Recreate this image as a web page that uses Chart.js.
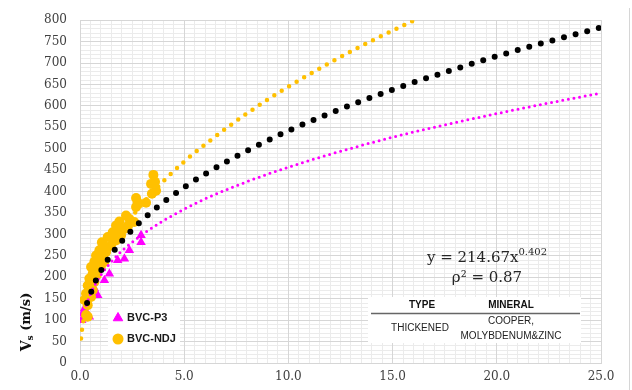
<!DOCTYPE html>
<html><head><meta charset="utf-8">
<script src="https://cdn.jsdelivr.net/npm/chart.js@4.4.1/dist/chart.umd.min.js"></script>
<style>html,body{margin:0;padding:0;background:#fff}#wrap{width:632px;height:390px;position:relative}</style>
</head><body><div id="wrap"><canvas id="c" width="632" height="390"></canvas></div>
<script>
// ---- data ----
const seriesNames = ['BVC-P3', 'BVC-NDJ'];
const p3X = [0.08,0.13,0.13,0.21,0.29,0.45,0.69,0.85,1.17,1.41,1.81,2.13,2.37,2.93,2.93];
const p3Y = [100,104,116,127,147,108,174,158,193,208,240,243,263,282,298];
const ndjX = [0.29,0.37,0.21,0.37,0.53,0.29,0.61,0.37,0.69,0.45,0.61,0.85,0.53,0.69,1.17,1.01,0.77,1.25,0.93,1.49,1.09,1.73,1.33,1.97,1.57,2.13,1.73,2.6,1.89,2.37,2.21,2.69,3.17,2.77,2.69,3.45,3.65,3.41,3.6,3.52,0.45,0.8,1.0,1.3,1.6,1.9,2.3,1.05];
const ndjY = [112,135,147,108,154,162,170,181,189,197,209,220,224,236,236,243,251,259,263,274,278,286,294,298,305,313,321,329,330,336,344,364,374,375,385,395,402,418,423,439,160,205,225,270,285,310,320,282];
// trend lines
const trendBlackX = [0.34,0.7,1,1.5,2,3,4,5,6,8,10,12,15,18,20,22,25];
const trendBlackY = [140,186,215,253,284,334,375,410,441,495,542,583,638,686,716,744,783];
const trendMagX = [0.3,0.5,1,1.5,2,3,4,5,6,8,10,12,15,18,20,22,25];
const trendMagY = [135,161,205,236,261,300,332,359,383,423,457,487,527,561,582,602,630];
const trendOrX = [0.05,0.1,0.2,0.4,0.7,1,1.5,2,3,4,5,6,8,10,12,14,16,18];
const trendOrY = [57,79,108,148,191,225,271,309,372,424,470,510,582,645,701,752,799,843];
const xTickLabels = ['0.0','5.0','10.0','15.0','20.0','25.0'];
const equationText = ['y = 214.67x', '0.402', 'ρ² = 0.87'];
const tableHeader = ['TYPE', 'MINERAL'];
const tableRow = ['THICKENED', 'COOPER,', 'MOLYBDENUM&ZINC'];
const yTitle = ['V', 's', ' (m/s)'];

const pts = (xs, ys) => xs.map((x, i) => ({x, y: ys[i]}));
const MAJOR = '#d6d6d6', MINOR = '#ebebeb';
const TICK_FONT = {family: 'DejaVu Serif', size: 12};

const overlay = {
  id: 'overlay',
  afterDatasetsDraw(chart) {
    const ctx = chart.ctx;
    ctx.save();
    // legend box
    ctx.fillStyle = '#fff';
    ctx.fillRect(108, 306, 72, 44);
    ctx.fillStyle = '#ff00ff'; ctx.strokeStyle = '#ff00ff';
    Chart.helpers.drawPoint(ctx, {pointStyle: 'triangle', radius: 5.5, borderWidth: 1}, 118, 318);
    ctx.fillStyle = '#ffc000'; ctx.strokeStyle = '#ffc000';
    ctx.beginPath(); ctx.arc(118, 339, 5.5, 0, Math.PI * 2); ctx.fill();
    ctx.fillStyle = '#1a1a1a';
    ctx.font = 'bold 11px "Liberation Sans", Arial, sans-serif';
    ctx.textBaseline = 'middle'; ctx.textAlign = 'left';
    ctx.fillText(seriesNames[0], 127, 318);
    ctx.fillText(seriesNames[1], 127, 339);
    // table
    ctx.fillStyle = '#fff';
    ctx.fillRect(368, 297, 213, 46);
    ctx.fillStyle = '#111';
    ctx.textAlign = 'center';
    ctx.font = 'bold 10px "Liberation Sans", Arial, sans-serif';
    ctx.fillText(tableHeader[0], 422, 305);
    ctx.fillText(tableHeader[1], 511, 305);
    ctx.strokeStyle = '#666'; ctx.lineWidth = 1.5;
    ctx.beginPath(); ctx.moveTo(371, 313.5); ctx.lineTo(580, 313.5); ctx.stroke();
    ctx.fillStyle = '#222';
    ctx.font = '10px "Liberation Sans", Arial, sans-serif';
    ctx.fillText(tableRow[0], 420, 328);
    ctx.fillText(tableRow[1], 511, 321);
    ctx.fillText(tableRow[2], 511, 336);
    // equation
    ctx.fillStyle = '#262626';
    ctx.textAlign = 'left'; ctx.textBaseline = 'alphabetic';
    ctx.font = '15px "DejaVu Serif", serif';
    const w1 = ctx.measureText(equationText[0]).width;
    ctx.font = '10px "DejaVu Serif", serif';
    const w2 = ctx.measureText(equationText[1]).width;
    const sx = 487 - (w1 + w2) / 2;
    ctx.font = '15px "DejaVu Serif", serif';
    ctx.fillText(equationText[0], sx, 262);
    ctx.font = '10px "DejaVu Serif", serif';
    ctx.fillText(equationText[1], sx + w1, 255);
    ctx.font = '15px "DejaVu Serif", serif';
    ctx.textAlign = 'center';
    ctx.fillText(equationText[2], 487, 282);
    // y title
    ctx.translate(27, 322);
    ctx.rotate(-Math.PI / 2);
    ctx.fillStyle = '#111';
    ctx.font = 'bold 14px "DejaVu Serif", serif';
    const a = ctx.measureText(yTitle[0]).width;
    ctx.font = 'bold 9px "DejaVu Serif", serif';
    const b = ctx.measureText(yTitle[1]).width;
    ctx.font = 'bold 13px "DejaVu Serif", serif';
    const c = ctx.measureText(yTitle[2]).width;
    let x0 = -(a + b + c) / 2;
    ctx.textAlign = 'left'; ctx.textBaseline = 'middle';
    ctx.font = 'bold 14px "DejaVu Serif", serif';
    ctx.fillText(yTitle[0], x0, 0);
    ctx.font = 'bold 9px "DejaVu Serif", serif';
    ctx.fillText(yTitle[1], x0 + a, 4);
    ctx.font = 'bold 13px "DejaVu Serif", serif';
    ctx.fillText(yTitle[2], x0 + a + b, 0);
    ctx.restore();
    // outer frame line
    ctx.save();
    ctx.strokeStyle = MAJOR; ctx.lineWidth = 1;
    ctx.beginPath(); ctx.moveTo(629.5, 8); ctx.lineTo(629.5, 390); ctx.stroke();
    ctx.restore();
  }
};

const trendDs = (label, xs, ys, color, w, gap, order) => ({
  label, data: pts(xs, ys), showLine: true, pointRadius: 0, pointHoverRadius: 0,
  borderColor: color, backgroundColor: color, borderWidth: w, borderDash: [0, gap],
  borderCapStyle: 'round', cubicInterpolationMode: 'monotone', order
});

new Chart(document.getElementById('c'), {
  type: 'scatter',
  data: {
    datasets: [
      trendDs('trend black', trendBlackX, trendBlackY, '#000', 6, 12, 0),
      trendDs('trend P3', trendMagX, trendMagY, '#ff00ff', 3, 5.7, 1),
      trendDs('trend NDJ', trendOrX, trendOrY, '#ffc000', 4.5, 8.7, 1),
      {label: seriesNames[0], data: pts(p3X, p3Y), pointStyle: 'triangle', pointRadius: 5.5,
       backgroundColor: '#ff00ff', borderColor: '#ff00ff', borderWidth: 0, order: 3},
      {label: seriesNames[1], data: pts(ndjX, ndjY), pointStyle: 'circle', pointRadius: 5,
       backgroundColor: '#ffc000', borderColor: '#ffc000', borderWidth: 0, order: 2}
    ]
  },
  options: {
    responsive: false, animation: false, devicePixelRatio: 1,
    layout: {padding: {left: 0, top: 19, right: 31, bottom: 0}},
    plugins: {legend: {display: false}, tooltip: {enabled: false}},
    scales: {
      x: {
        type: 'linear', min: 0, max: 25,
        afterFit: s => { s.height = 27; },
        ticks: {stepSize: 5, autoSkip: false, maxRotation: 0, padding: 7, color: '#404040', font: TICK_FONT,
                callback: (v) => xTickLabels[Math.round(v / 5)]},
        grid: {color: MAJOR, drawTicks: false, z: -1},
        border: {color: MAJOR}
      },
      xMinor: {
        type: 'linear', position: 'bottom', min: 0, max: 25,
        afterFit: s => { s.height = 0; },
        ticks: {display: false, stepSize: 0.5},
        grid: {color: MINOR, drawTicks: false, z: -2},
        border: {display: false}
      },
      y: {
        type: 'linear', min: 0, max: 800,
        afterFit: s => { s.width = 80; },
        ticks: {stepSize: 50, autoSkip: false, padding: 13, color: '#404040', font: TICK_FONT},
        grid: {color: MAJOR, drawTicks: false, z: -1},
        border: {color: MAJOR}
      },
      yMinor: {
        type: 'linear', position: 'left', min: 0, max: 800,
        afterFit: s => { s.width = 0; },
        ticks: {display: false, stepSize: 10},
        grid: {color: MINOR, drawTicks: false, z: -2},
        border: {display: false}
      }
    }
  },
  plugins: [overlay]
});
</script>
</body></html>
